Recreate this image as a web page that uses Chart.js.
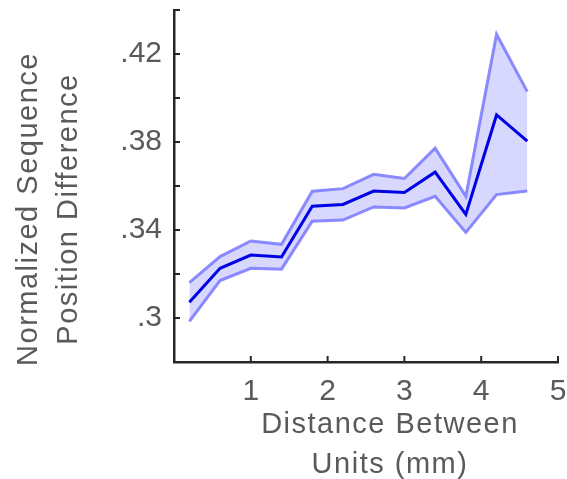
<!DOCTYPE html>
<html>
<head>
<meta charset="utf-8">
<script src="https://cdn.jsdelivr.net/npm/chart.js@4"></script>
<style>
  html, body { margin: 0; padding: 0; background: #fff; }
  #wrap { width: 567px; height: 479px; }
</style>
</head>
<body>
<div id="wrap"><canvas id="chart" width="567" height="479"></canvas></div>
<script>
// distance between units (mm)
const distances = [0.2, 0.6, 1.0, 1.4, 1.8, 2.2, 2.6, 3.0, 3.4, 3.8, 4.2, 4.6];
// mean normalized sequence position difference
const meanDiff = [0.3072, 0.3226, 0.3286, 0.3277, 0.3508, 0.3516, 0.3577, 0.3570, 0.3663, 0.3471, 0.3923, 0.3804];
// upper and lower edge of the shaded band
const upperDiff = [0.3161, 0.3279, 0.3350, 0.3335, 0.3576, 0.3588, 0.3653, 0.3634, 0.3772, 0.3553, 0.4290, 0.4029];
const lowerDiff = [0.2985, 0.3170, 0.3226, 0.3222, 0.3440, 0.3445, 0.3505, 0.3500, 0.3553, 0.3389, 0.3561, 0.3577];
// labelled ticks
const yTickLabels = [0.30, 0.34, 0.38, 0.42];
const xTickLabels = [1, 2, 3, 4, 5];
const xTitle = ['Distance Between', 'Units (mm)'];
const yTitle = ['Normalized Sequence', 'Position Difference'];

const toPoints = ys => distances.map((x, i) => ({ x: x, y: ys[i] }));

const axisColor = '#262626';
const textColor = '#5a5a5a';
const fontFamily = '"Liberation Sans", Arial, Helvetica, sans-serif';

// ticks that point into the plot, like the original
const innerTicks = {
  id: 'innerTicks',
  afterDraw(chart) {
    const ctx = chart.ctx;
    const area = chart.chartArea;
    const xs = chart.scales.x, ys = chart.scales.y;
    ctx.save();
    ctx.strokeStyle = axisColor;
    ctx.lineWidth = 2;
    ys.ticks.forEach(t => {
      const py = ys.getPixelForValue(t.value);
      ctx.beginPath();
      ctx.moveTo(area.left, py);
      ctx.lineTo(area.left + 6, py);
      ctx.stroke();
    });
    xs.ticks.forEach(t => {
      if (t.value === 0) return;
      const px = xs.getPixelForValue(t.value);
      ctx.beginPath();
      ctx.moveTo(px, area.bottom);
      ctx.lineTo(px, area.bottom - 6);
      ctx.stroke();
    });
    ctx.restore();
  }
};

// two-line axis titles, placed where the original has them
const axisTitles = {
  id: 'axisTitles',
  afterDraw(chart) {
    const ctx = chart.ctx;
    ctx.save();
    ctx.fillStyle = textColor;
    ctx.font = '29px ' + fontFamily;
    ctx.letterSpacing = '1.5px';
    ctx.textAlign = 'center';
    ctx.textBaseline = 'alphabetic';
    ctx.fillText(xTitle[0], 390, 432.5);
    ctx.fillText(xTitle[1], 390, 472.5);
    ctx.rotate(-Math.PI / 2);
    ctx.fillText(yTitle[0], -209, 36.5);
    ctx.fillText(yTitle[1], -209, 76.5);
    ctx.restore();
  }
};

new Chart(document.getElementById('chart'), {
  type: 'line',
  data: {
    datasets: [
      {
        label: 'mean',
        data: toPoints(meanDiff),
        borderColor: 'rgb(0,0,230)',
        borderWidth: 3,
        pointRadius: 0,
        fill: false,
        tension: 0,
        order: 0
      },
      {
        label: 'upper',
        data: toPoints(upperDiff),
        borderColor: 'rgba(120,120,255,0.85)',
        borderWidth: 3,
        pointRadius: 0,
        fill: '+1',
        backgroundColor: 'rgb(216,216,255)',
        tension: 0,
        order: 1
      },
      {
        label: 'lower',
        data: toPoints(lowerDiff),
        borderColor: 'rgba(120,120,255,0.85)',
        borderWidth: 3,
        pointRadius: 0,
        fill: false,
        tension: 0,
        order: 2
      }
    ]
  },
  options: {
    responsive: false,
    animation: false,
    layout: { padding: { top: 10, right: 9, left: 0, bottom: 0 } },
    plugins: {
      legend: { display: false },
      tooltip: { enabled: false },
      filler: { drawTime: 'beforeDatasetsDraw' }
    },
    scales: {
      x: {
        type: 'linear',
        min: 0,
        max: 5,
        ticks: {
          stepSize: 1,
          color: textColor,
          font: { family: fontFamily, size: 30 },
          padding: 12,
          maxRotation: 0,
          callback: v => (xTickLabels.includes(v) ? String(v) : '')
        },
        grid: { display: true, drawOnChartArea: false, drawTicks: false },
        border: { display: true, color: axisColor, width: 2.5 },
        afterFit: s => { s.height = 117; s.paddingLeft = 0; s.paddingRight = 0; }
      },
      y: {
        min: 0.28,
        max: 0.44,
        ticks: {
          stepSize: 0.02,
          color: textColor,
          font: { family: fontFamily, size: 30 },
          padding: 12,
          callback: v => {
            const hit = yTickLabels.some(t => Math.abs(t - v) < 1e-6);
            return hit ? (+v.toFixed(2)).toString().replace(/^0/, '') : '';
          }
        },
        grid: { display: true, drawOnChartArea: false, drawTicks: false },
        border: { display: true, color: axisColor, width: 2.5 },
        afterFit: s => { s.width = 174; s.paddingTop = 0; s.paddingBottom = 0; }
      }
    }
  },
  plugins: [innerTicks, axisTitles]
});
</script>
</body>
</html>
